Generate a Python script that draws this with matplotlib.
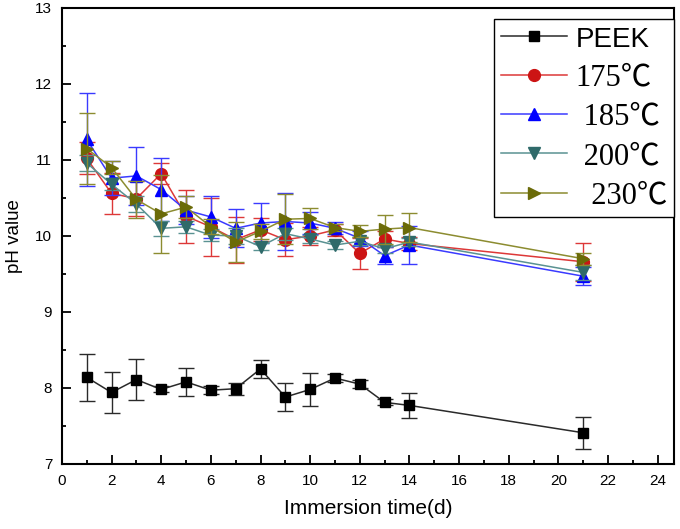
import matplotlib
matplotlib.use("Agg")
from matplotlib import pyplot as plt
from matplotlib.ticker import MultipleLocator

days = [1, 2, 3, 4, 5, 6, 7, 8, 9, 10, 11, 12, 13, 14, 21]

peek = [8.14, 7.94, 8.11, 7.98, 8.08, 7.97, 7.99, 8.25, 7.88, 7.98, 8.13, 8.05, 7.81, 7.77, 7.41]
peek_err = [0.31, 0.27, 0.27, 0.04, 0.18, 0.05, 0.08, 0.12, 0.18, 0.22, 0.05, 0.05, 0.04, 0.16, 0.21]

ph175 = [11.02, 10.56, 10.49, 10.82, 10.26, 10.12, 9.95, 10.08, 9.95, 10.00, 10.08, 9.77, 9.96, 9.90, 9.66]
err175 = [0.21, 0.27, 0.23, 0.14, 0.35, 0.38, 0.30, 0.15, 0.22, 0.12, 0.08, 0.20, 0.10, 0.08, 0.25]

ph185 = [11.27, 10.76, 10.79, 10.61, 10.34, 10.25, 10.10, 10.17, 10.19, 10.17, 10.10, 9.97, 9.74, 9.88, 9.47]
err185 = [0.61, 0.22, 0.38, 0.42, 0.18, 0.28, 0.25, 0.26, 0.37, 0.15, 0.08, 0.10, 0.11, 0.25, 0.12]

ph200 = [10.96, 10.68, 10.42, 10.10, 10.12, 10.01, 10.00, 9.86, 10.03, 9.96, 9.88, 9.93, 9.83, 9.92, 9.52]
err200 = [0.10, 0.08, 0.10, 0.10, 0.08, 0.08, 0.10, 0.05, 0.08, 0.05, 0.05, 0.05, 0.05, 0.05, 0.10]

ph230 = [11.15, 10.90, 10.48, 10.29, 10.38, 10.12, 9.92, 10.06, 10.22, 10.23, 10.11, 10.06, 10.09, 10.11, 9.70]
err230 = [0.47, 0.08, 0.24, 0.51, 0.15, 0.10, 0.26, 0.10, 0.33, 0.14, 0.05, 0.08, 0.19, 0.19, 0.08]

labels = ["PEEK", "175\u2103", " 185\u2103", " 200\u2103", "  230\u2103"]

# (values, errors, marker, marker colour, line colour, marker size)
series = [
    (peek, peek_err, "s", "#000000", "#2a2a2a", 7),
    (ph175, err175, "o", "#cc1414", "#dd3838", 8.5),
    (ph185, err185, "^", "#0000ff", "#3a3aff", 9),
    (ph200, err200, "v", "#2f6a6a", "#5a9292", 9),
    (ph230, err230, ">", "#6b6b08", "#8c8c30", 9),
]

fig = plt.figure(figsize=(6.8, 5.29), dpi=100)
ax = fig.add_axes([0.091, 0.123, 0.900, 0.862])

handles = []
for (vals, errs, mk, mcol, lcol, ms), lab in zip(series, labels):
    ax.errorbar(days, vals, yerr=errs, fmt="none", ecolor=lcol, elinewidth=1.0,
                capsize=5.5, capthick=1.0)
    h, = ax.plot(days, vals, "-", color=lcol, lw=1.1, marker=mk, ms=ms,
                 mfc=mcol, mec=mcol, label=lab)
    handles.append(h)

ax.set_xlim(0, 24.65)
ax.set_ylim(7, 13)
ax.xaxis.set_major_locator(MultipleLocator(2))
ax.xaxis.set_minor_locator(MultipleLocator(1))
ax.yaxis.set_major_locator(MultipleLocator(1))
ax.yaxis.set_minor_locator(MultipleLocator(0.5))
ax.tick_params(which="both", direction="in", top=False, right=False, width=1.3)
ax.tick_params(which="major", length=6.5, labelsize=11, pad=7)
ax.tick_params(which="minor", length=3.2)
for lbl in ax.get_xticklabels() + ax.get_yticklabels():
    lbl.set_fontfamily("Liberation Sans")
for sp in ax.spines.values():
    sp.set_linewidth(1.5)

ax.set_xlabel("Immersion time(d)", fontsize=15, family="Liberation Sans", labelpad=8)
ax.set_ylabel("pH value", fontsize=13.5, family="Liberation Sans", labelpad=9)

leg = ax.legend(handles=handles, loc="upper right", bbox_to_anchor=(1.0, 0.976),
                prop={"family": ["Liberation Serif", "Noto Sans CJK SC"], "size": 22},
                fancybox=False, framealpha=1, edgecolor="black",
                handlelength=2.15, handletextpad=0.3, labelspacing=0.34,
                borderpad=0.22, borderaxespad=0.0)
leg.get_frame().set_linewidth(1.0)
leg.get_texts()[0].set_fontfamily("Liberation Sans")
leg.get_texts()[0].set_fontsize(20)

plt.savefig("out.png", dpi=100, facecolor="w")
